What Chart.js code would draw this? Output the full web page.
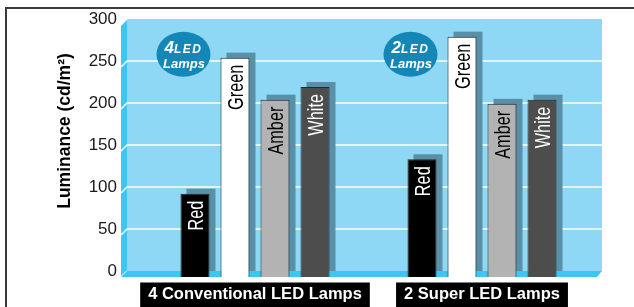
<!DOCTYPE html>
<html>
<head>
<meta charset="utf-8">
<script src="https://cdn.jsdelivr.net/npm/chart.js@4.4.1/dist/chart.umd.min.js"></script>
<style>
  html, body { margin: 0; padding: 0; background: #fff; }
  canvas { display: block; }
</style>
</head>
<body>
<canvas id="chart" width="634" height="307"></canvas>
<script>
const groupLabels = ['4 Conventional LED Lamps', '2 Super LED Lamps']
const badgeNumbers = ['4', '2']
const colorNames = ['Red', 'Green', 'Amber', 'White']
const redValues = [92, 133]
const greenValues = [254, 279]
const amberValues = [204, 199]
const whiteValues = [219, 204]
const yMax = 300
const yStep = 50
const yTitle = 'Luminance (cd/m²)'

const barFills = ['#000000', '#ffffff', '#b3b3b3', '#4d4d4d']
const labelColors = ['#ffffff', '#000000', '#000000', '#ffffff']
const FONT = "'Liberation Sans', Arial, Helvetica, sans-serif"

// 3D look: back plane, side wall, floor, bar shadows, labels, badges
const plotDecor = {
  id: 'plotDecor',
  beforeDraw(chart) {
    const { ctx, chartArea: a, scales: { y } } = chart
    ctx.save()
    // outer frame
    ctx.strokeStyle = '#3a3a3a'
    ctx.lineWidth = 2
    ctx.beginPath()
    ctx.moveTo(634, 8)
    ctx.lineTo(6, 8)
    ctx.lineTo(6, 307)
    ctx.stroke()

    const left = a.left - 14.5
    const right = a.right + 6.5
    const top = y.getPixelForValue(yMax)
    const zero = y.getPixelForValue(0)

    ctx.fillStyle = '#8ed8f5'
    ctx.fillRect(left, top, right - left, zero - top)

    // side wall
    ctx.fillStyle = '#3ec6f1'
    ctx.beginPath()
    ctx.moveTo(left - 6, top + 6)
    ctx.lineTo(left, top)
    ctx.lineTo(left, zero)
    ctx.lineTo(left - 6, zero + 6)
    ctx.closePath()
    ctx.fill()

    // grid lines
    ctx.strokeStyle = '#ffffff'
    ctx.lineWidth = 1.5
    y.ticks.forEach(t => {
      const py = y.getPixelForValue(t.value)
      ctx.beginPath()
      ctx.moveTo(left - 6, py + 6)
      ctx.lineTo(left, py)
      if (t.value > 0 && t.value < yMax) ctx.lineTo(right, py)
      ctx.stroke()
    })
    ctx.restore()
  },
  beforeDatasetsDraw(chart) {
    const { ctx, chartArea: a, scales: { y } } = chart
    const zero = y.getPixelForValue(0)
    ctx.save()
    // shadows behind the bars
    ctx.fillStyle = '#5a8fa8'
    chart.data.datasets.forEach((ds, i) => {
      chart.getDatasetMeta(i).data.forEach(bar => {
        ctx.fillRect(bar.x - bar.width / 2 + 6, bar.y - 5, bar.width, zero - bar.y + 5)
      })
    })
    // floor
    const left = a.left - 14.5
    const right = a.right + 6.5
    ctx.fillStyle = '#3ec6f1'
    ctx.beginPath()
    ctx.moveTo(left, zero)
    ctx.lineTo(right, zero)
    ctx.lineTo(right - 5, zero + 6)
    ctx.lineTo(left - 6, zero + 6)
    ctx.closePath()
    ctx.fill()
    ctx.restore()
  },
  afterDatasetsDraw(chart) {
    const { ctx, scales: { y } } = chart
    ctx.save()
    // names written inside the bars
    chart.data.datasets.forEach((ds, i) => {
      chart.getDatasetMeta(i).data.forEach(bar => {
        ctx.save()
        ctx.translate(bar.x + 8, bar.y + 7)
        ctx.rotate(-Math.PI / 2)
        ctx.scale(0.74, 1)
        ctx.font = '22px ' + FONT
        ctx.fillStyle = labelColors[i]
        ctx.textAlign = 'right'
        ctx.textBaseline = 'alphabetic'
        ctx.fillText(ds.label, 0, 0)
        ctx.restore()
      })
    })
    // "nLED Lamps" badges
    const firstBars = chart.getDatasetMeta(0).data
    const cy = y.getPixelForValue(258)
    firstBars.forEach((bar, i) => {
      const cx = bar.x - 11.5
      ctx.fillStyle = '#1587b6'
      ctx.beginPath()
      ctx.ellipse(cx, cy, 27, 22.5, 0, 0, Math.PI * 2)
      ctx.fill()

      ctx.fillStyle = '#ffffff'
      ctx.textBaseline = 'alphabetic'
      ctx.textAlign = 'left'
      ctx.font = 'italic bold 17px ' + FONT
      const numW = ctx.measureText(badgeNumbers[i]).width
      ctx.font = 'italic bold 12px ' + FONT
      ctx.letterSpacing = '1.5px'
      const ledW = ctx.measureText('LED').width
      const x0 = cx - (numW + ledW) / 2
      ctx.letterSpacing = '0px'
      ctx.font = 'italic bold 17px ' + FONT
      ctx.fillText(badgeNumbers[i], x0, cy - 1.2)
      ctx.font = 'italic bold 12px ' + FONT
      ctx.letterSpacing = '1.5px'
      ctx.fillText('LED', x0 + numW, cy - 1.2)
      ctx.letterSpacing = '0px'
      ctx.font = 'italic bold 13px ' + FONT
      ctx.textAlign = 'center'
      ctx.fillText('Lamps', cx + 0.5, cy + 13.5)
    })
    ctx.restore()
  },
  afterDraw(chart) {
    const { ctx, chartArea: a } = chart
    ctx.save()
    ctx.translate(65, (a.top + a.bottom) / 2 - 14)
    ctx.rotate(-Math.PI / 2)
    ctx.font = 'bold 17.5px ' + FONT
    ctx.fillStyle = '#000'
    ctx.textAlign = 'center'
    ctx.textBaseline = 'middle'
    ctx.fillText(yTitle, 0, 0)
    ctx.restore()
  }
}

const seriesValues = [redValues, greenValues, amberValues, whiteValues]

const ctx = document.getElementById('chart').getContext('2d')
new Chart(ctx, {
  type: 'bar',
  data: {
    labels: groupLabels,
    datasets: colorNames.map((name, i) => ({
      label: name,
      data: seriesValues[i],
      backgroundColor: barFills[i],
      borderColor: '#262626',
      borderWidth: 1,
      base: -7,
      clip: false,
      categoryPercentage: 0.705,
      barPercentage: 0.725
    }))
  },
  options: {
    responsive: false,
    animation: false,
    layout: { padding: { top: 19, right: 38.5, bottom: 0, left: 0 } },
    plugins: {
      legend: { display: false },
      tooltip: { enabled: false }
    },
    scales: {
      x: {
        // tick marks are hidden (grid off) but their length sets the label gap
        grid: { display: false, drawTicks: true, tickLength: 14 },
        border: { display: false },
        ticks: {
          color: '#ffffff',
          font: { size: 16.5, weight: 'bold', family: FONT },
          padding: 0,
          autoSkip: false,
          maxRotation: 0,
          showLabelBackdrop: true,
          backdropColor: '#000000',
          backdropPadding: { top: 2.5, bottom: 12, left: 8, right: 8 }
        },
        afterFit: scale => { scale.height = 36 }
      },
      y: {
        min: 0,
        max: yMax,
        grid: { display: false, drawTicks: true, tickLength: 24.5 },
        border: { display: false },
        ticks: {
          stepSize: yStep,
          color: '#1a1a1a',
          font: { size: 17, family: FONT },
          padding: 0
        },
        afterFit: scale => { scale.width = 141.5 }
      }
    }
  },
  plugins: [plotDecor]
})
</script>
</body>
</html>
